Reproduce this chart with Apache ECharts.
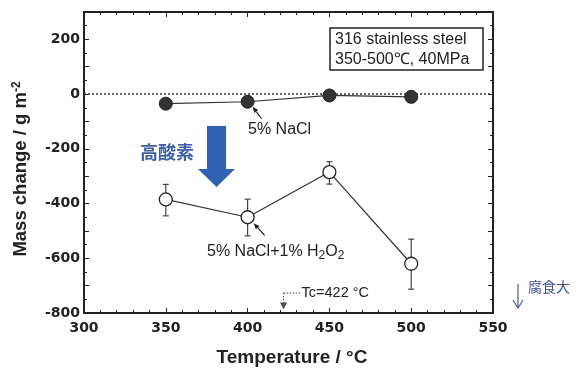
<!DOCTYPE html>
<html>
<head>
<meta charset="utf-8">
<script src="https://cdn.jsdelivr.net/npm/echarts@6/dist/echarts.min.js"></script>
<style>
  html, body { margin: 0; padding: 0; background: #fff; }
  #chart { width: 584px; height: 370px; }
</style>
</head>
<body>
<div id="chart"></div>
<script>
// Test temperatures (°C)
const temps = [350, 400, 450, 500];
// Mass change in 5% NaCl (g m-2)
const naclMass = [-35, -28, -5, -10];
// Mass change in 5% NaCl + 1% H2O2 (g m-2) with error-bar limits
const peroxMass = [-385, -450, -285, -620];
const peroxLow = [-445, -518, -329, -713];
const peroxHigh = [-330, -384, -247, -530];
// Critical temperature of water
const tcTemp = 422;
// Axis ranges and labelled ticks
const xRange = [300, 550];
const yRange = [-800, 300];
const yLabelled = [-800, -600, -400, -200, 0, 200];

const FONT = '"Liberation Sans", Arial, sans-serif';
const TICKFONT = '"DejaVu Sans", sans-serif';
const INK = '#222';

const chart = echarts.init(document.getElementById('chart'), null, { renderer: 'canvas' });

const axisCommon = {
  type: 'value',
  axisLine: { show: true, onZero: false, lineStyle: { color: INK, width: 2 } },
  axisTick: { show: true, inside: true, length: 5, lineStyle: { color: INK, width: 1 } },
  minorTick: { show: true, length: 3, lineStyle: { color: INK, width: 1 } },
  splitLine: { show: false }
};

const errData = temps.map((t, i) => [t, peroxLow[i], peroxHigh[i]]);

chart.setOption({
  animation: false,
  backgroundColor: '#fff',
  grid: { left: 84, right: 91, top: 12, bottom: 57 },
  xAxis: [
    Object.assign({}, axisCommon, {
      min: xRange[0], max: xRange[1], interval: 50, position: 'bottom',
      minorTick: Object.assign({}, axisCommon.minorTick, { splitNumber: 5 }),
      axisLabel: { color: INK, fontFamily: TICKFONT, fontSize: 14, fontWeight: 'bold', margin: 8 }
    }),
    Object.assign({}, axisCommon, {
      min: xRange[0], max: xRange[1], interval: 50, position: 'top',
      minorTick: Object.assign({}, axisCommon.minorTick, { splitNumber: 5 }),
      axisLabel: { show: false }
    })
  ],
  yAxis: [
    Object.assign({}, axisCommon, {
      min: yRange[0], max: yRange[1], interval: 100, position: 'left',
      minorTick: Object.assign({}, axisCommon.minorTick, { splitNumber: 2 }),
      axisLabel: {
        color: INK, fontFamily: TICKFONT, fontSize: 14, fontWeight: 'bold', margin: 4,
        formatter: v => (yLabelled.indexOf(v) >= 0 ? String(v) : '')
      }
    }),
    Object.assign({}, axisCommon, {
      min: yRange[0], max: yRange[1], interval: 100, position: 'right',
      minorTick: Object.assign({}, axisCommon.minorTick, { splitNumber: 2 }),
      axisLabel: { show: false }
    })
  ],
  series: [
    {
      name: '5% NaCl',
      type: 'line',
      data: temps.map((t, i) => [t, naclMass[i]]),
      symbol: 'circle',
      symbolSize: 13,
      itemStyle: { color: '#333', borderColor: '#222', borderWidth: 1 },
      lineStyle: { color: '#333', width: 1.2 },
      z: 4,
      markLine: {
        silent: true,
        symbol: 'none',
        label: { show: false },
        lineStyle: { color: '#333', type: [2, 2], width: 1.5 },
        data: [{ yAxis: 0 }]
      }
    },
    {
      name: 'error',
      type: 'custom',
      data: errData,
      z: 3,
      renderItem: (params, api) => {
        const x = api.value(0);
        const lo = api.coord([x, api.value(1)]);
        const hi = api.coord([x, api.value(2)]);
        const cap = 3;
        const style = { stroke: '#444', lineWidth: 1.2 };
        return {
          type: 'group',
          children: [
            { type: 'line', shape: { x1: lo[0], y1: lo[1], x2: hi[0], y2: hi[1] }, style },
            { type: 'line', shape: { x1: lo[0] - cap, y1: lo[1], x2: lo[0] + cap, y2: lo[1] }, style },
            { type: 'line', shape: { x1: hi[0] - cap, y1: hi[1], x2: hi[0] + cap, y2: hi[1] }, style }
          ]
        };
      }
    },
    {
      name: '5% NaCl+1% H2O2',
      type: 'line',
      data: temps.map((t, i) => [t, peroxMass[i]]),
      symbol: 'circle',
      symbolSize: 13,
      itemStyle: { color: '#fff', borderColor: '#222', borderWidth: 1.3 },
      lineStyle: { color: '#333', width: 1.2 },
      z: 5
    },
    {
      name: 'Tc',
      type: 'scatter',
      data: [[tcTemp, yRange[0]]],
      symbol: 'triangle',
      symbolRotate: 180,
      symbolSize: [7, 7],
      symbolOffset: [0, -7],
      itemStyle: { color: '#222' },
      z: 6
    }
  ]
});

// Annotations positioned from data coordinates
const px = (x, y) => chart.convertToPixel({ gridIndex: 0 }, [x, y]);
const pNacl400 = px(temps[1], naclMass[1]);
const pPerox400 = px(temps[1], peroxMass[1]);
const pTc = px(tcTemp, yRange[0]);

function leader(tip, from) {
  const ang = Math.atan2(tip[1] - from[1], tip[0] - from[0]);
  const h = 6, w = 2.5;
  const bx = tip[0] - h * Math.cos(ang), by = tip[1] - h * Math.sin(ang);
  return [
    { type: 'line', shape: { x1: from[0], y1: from[1], x2: bx, y2: by }, style: { stroke: '#222', lineWidth: 1.2 }, z: 10 },
    { type: 'polygon', shape: { points: [
      tip,
      [bx + w * Math.sin(ang), by - w * Math.cos(ang)],
      [bx - w * Math.sin(ang), by + w * Math.cos(ang)]
    ] }, style: { fill: '#222' }, z: 10 }
  ];
}

const graphics = [];
// Material and condition box
graphics.push({
  type: 'rect', shape: { x: 330, y: 28, width: 153, height: 42 },
  style: { fill: '#fff', stroke: '#222', lineWidth: 1.5 }, z: 8
});
graphics.push({
  type: 'text', x: 335, y: 40, z: 9,
  style: { text: '316 stainless steel', font: '16px ' + FONT, fill: INK, verticalAlign: 'middle' }
});
graphics.push({
  type: 'text', x: 335, y: 60, z: 9,
  style: { text: '350-500℃, 40MPa', font: '16px ' + FONT, fill: INK, verticalAlign: 'middle' }
});
// Series labels with leader arrows
graphics.push({
  type: 'text', x: 248, y: 130, z: 9,
  style: { text: '5% NaCl', font: '16px ' + FONT, fill: INK, verticalAlign: 'middle' }
});
graphics.push(...leader([pNacl400[0] + 5, pNacl400[1] + 5], [pNacl400[0] + 14, pNacl400[1] + 17]));
graphics.push({
  type: 'text', x: 207, y: 252, z: 9,
  style: {
    text: '{n|5% NaCl+1% H}{s|2}{n|O}{s|2}',
    verticalAlign: 'middle',
    rich: {
      n: { font: '16px ' + FONT, fill: INK, fontSize: 16 },
      s: { font: '12px ' + FONT, fill: INK, fontSize: 12, padding: [8, 0, 0, 0] }
    }
  }
});
graphics.push(...leader([pPerox400[0] + 6, pPerox400[1] + 6], [pPerox400[0] + 17, pPerox400[1] + 18]));
// Oxygen arrow
graphics.push({
  type: 'polygon', z: 9,
  shape: { points: [[207, 126], [226, 126], [226, 169], [235, 169], [216.5, 187], [198, 169], [207, 169]] },
  style: { fill: '#2f62b3' }
});
graphics.push({
  type: 'text', x: 167, y: 152, z: 9,
  style: { text: '高酸素', font: 'bold 18px "Noto Sans CJK JP"', fill: '#3d5fa3', align: 'center', verticalAlign: 'middle' }
});
// Critical temperature marker
graphics.push({
  type: 'line', z: 9,
  shape: { x1: pTc[0], y1: pTc[1] - 20, x2: pTc[0], y2: pTc[1] - 10 },
  style: { stroke: '#444', lineWidth: 1, lineDash: [1.5, 1.5] }
});
graphics.push({
  type: 'line', z: 9,
  shape: { x1: pTc[0], y1: pTc[1] - 20, x2: pTc[0] + 17, y2: pTc[1] - 20 },
  style: { stroke: '#444', lineWidth: 1, lineDash: [1.5, 1.5] }
});
graphics.push({
  type: 'text', x: pTc[0] + 18, y: pTc[1] - 20, z: 9,
  style: { text: 'Tc=' + tcTemp + ' °C', font: '14.5px ' + FONT, fill: INK, verticalAlign: 'middle' }
});
// Corrosion direction
graphics.push({
  type: 'line', z: 9, shape: { x1: 518, y1: 284, x2: 518, y2: 307 },
  style: { stroke: '#4a5a8e', lineWidth: 1.2 }
});
graphics.push({
  type: 'polyline', z: 9, shape: { points: [[513, 300], [518, 308], [523, 300]] },
  style: { stroke: '#4a5a8e', lineWidth: 1.2, fill: null }
});
graphics.push({
  type: 'text', x: 528, y: 287, z: 9,
  style: { text: '腐食大', font: '14px "Noto Sans CJK JP"', fill: '#3b4f8a', verticalAlign: 'middle' }
});
// Axis titles
graphics.push({
  type: 'text', x: 292, y: 358, z: 9,
  style: { text: 'Temperature / °C', font: 'bold 19px ' + FONT, fill: INK, align: 'center', verticalAlign: 'middle' }
});
graphics.push({
  type: 'text', x: 21, y: 169, rotation: Math.PI / 2, z: 9,
  style: {
    text: '{n|Mass change / g m}{s|-2}',
    align: 'center', verticalAlign: 'middle',
    rich: {
      n: { font: 'bold 18.5px ' + FONT, fill: INK, fontSize: 18.5, fontWeight: 'bold' },
      s: { font: 'bold 12px ' + FONT, fill: INK, fontSize: 12, fontWeight: 'bold', padding: [0, 0, 9, 0] }
    }
  }
});

chart.setOption({ graphic: graphics });
</script>
</body>
</html>
